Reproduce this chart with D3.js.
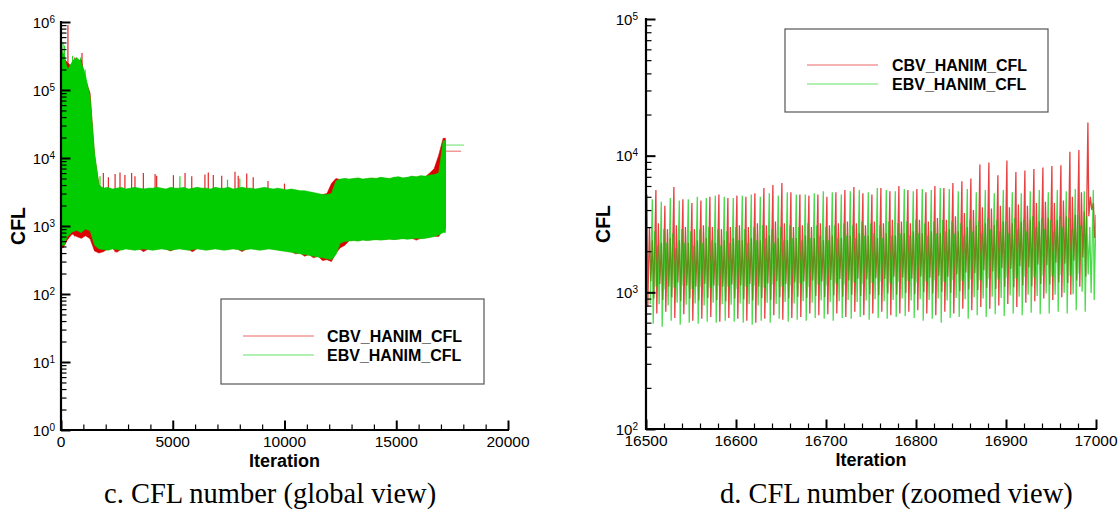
<!DOCTYPE html>
<html>
<head>
<meta charset="utf-8">
<title>CFL number history</title>
<script src="https://cdn.jsdelivr.net/npm/d3@7/dist/d3.min.js"></script>
<style>
  html, body { margin: 0; padding: 0; background: #ffffff; }
  svg { display: block; }
</style>
</head>
<body>
<svg id="chart" width="1120" height="512"></svg>
<script>
// ---------- Global view: envelope of each series per 200-iteration bin ----------
const globalBinSize = 200;
const globalEbvMax = [
  350000, 200000, 260000, 300000, 260000, 160000, 80000, 12000,
  3900, 3600, 3700, 3500, 3600, 3700, 3500, 3600, 3700, 3600, 3500,
  3600, 3600, 3700, 3600, 3500, 3700, 3600, 3600, 3700, 3500, 3600,
  3700, 3600, 3600, 3500, 3700, 3600, 3600, 3700, 3500, 3600, 3700,
  3600, 3600, 3500, 3600, 3700, 3600, 3500, 3600, 3500, 3400, 3500,
  3400, 3300, 3300, 3200, 3100, 3000, 2900, 2900, 3000, 4600,
  4900, 5000, 4900, 5000, 5100, 4900, 5000, 5100, 5000, 5200, 5100,
  5000, 5200, 5300, 5100, 5200, 5400, 5300, 5500, 5400, 5600, 5700,
  6000, 18000
];
const globalEbvMin = [
  520, 700, 820, 860, 800, 900, 850, 520,
  460, 450, 440, 460, 450, 440, 460, 450, 440, 450, 460,
  450, 440, 450, 460, 450, 440, 450, 460, 450, 440, 450,
  460, 450, 440, 450, 460, 450, 440, 450, 460, 450, 440,
  450, 460, 450, 440, 450, 460, 450, 440, 430, 420, 410,
  400, 390, 380, 370, 360, 350, 340, 330, 320, 380,
  560, 590, 600, 610, 600, 620, 610, 620, 630, 620, 630,
  640, 630, 640, 650, 640, 650, 660, 650, 660, 680, 700,
  740, 800
];
const globalCbvMax = [
  300000, 250000, 220000, 250000, 280000, 140000, 90000, 11000,
  4000, 3500, 3600, 3400, 3500, 3600, 3400, 3500, 3600, 3500, 3400,
  3500, 3500, 3600, 3500, 3400, 3600, 3500, 3500, 3600, 3400, 3500,
  3600, 3500, 3500, 3400, 3600, 3500, 3500, 3600, 3400, 3500, 3600,
  3500, 3500, 3400, 3500, 3600, 3500, 3400, 3500, 3400, 3300, 3400,
  3300, 3200, 3200, 3100, 3000, 2900, 2900, 3000, 4200, 5000,
  4800, 4900, 4800, 4900, 5000, 4800, 4900, 5000, 4900, 5100, 5000,
  4900, 5100, 5200, 5000, 5100, 5300, 5200, 5400, 5300, 6000, 7000,
  11000, 19500
];
const globalCbvMin = [
  480, 640, 760, 700, 660, 720, 650, 430,
  400, 420, 460, 470, 410, 460, 470, 460, 450, 460, 420,
  460, 450, 460, 470, 460, 430, 460, 470, 460, 450, 420,
  470, 460, 450, 460, 470, 460, 450, 460, 470, 460, 420,
  460, 470, 460, 450, 460, 470, 460, 450, 440, 430, 420,
  390, 400, 360, 380, 340, 360, 310, 320, 300, 400,
  480, 520, 610, 620, 610, 630, 620, 630, 640, 630, 640,
  650, 640, 650, 660, 650, 660, 620, 660, 670, 690, 710,
  700, 900
];
// isolated excursions beyond the band
const globalCbvSpikeIter = [40, 310, 620, 940, 1895, 2120, 2420, 2640, 2860, 3160, 3310, 3685, 4210, 4280,
  5030, 5550, 5850, 6440, 6590, 6815, 7190, 7785, 7930, 8310, 8600, 9260, 10000];
const globalCbvSpikeVal = [380000, 900000, 300000, 350000, 6000, 5200, 5800, 6100, 5600, 6000, 5400, 6000, 5800, 5500,
  5600, 6000, 5400, 5700, 6100, 5600, 5500, 6300, 5500, 5900, 5200, 4600, 4200];
const globalEbvSpikeIter = [90, 160, 520, 560, 880, 1080, 1745, 5320, 7450, 8000];
const globalEbvSpikeVal = [500000, 450000, 320000, 280000, 300000, 200000, 5400, 5400, 4800, 5000];
// last recorded samples after the run
const globalCbvTailIter = [17200, 17900];
const globalCbvTailVal = [12600, 12600];
const globalEbvTailIter = [17200, 18030];
const globalEbvTailVal = [15500, 15500];

// ---------- Zoomed view: one entry per 10-iteration cycle from 16500 ----------
const zoomStart = 16500;
const zoomCycle = 10;
const zoomCbvPeak = [
  5200, 5600, 4300, 5900, 4800, 4500, 4700, 5000, 5200, 4900,
  5100, 5000, 5300, 5800, 6100, 6300, 5400, 5200, 5100, 5200,
  5000, 5400, 5600, 5900, 5300, 5200, 5800, 5500, 6000, 5600,
  5700, 5400, 6000, 5800, 6300, 6500, 6800, 8600, 8900, 7200,
  9200, 7600, 7800, 8000, 8200, 8400, 8500, 10700, 11000, 17500
];
const zoomCbvTrough = [
  780, 700, 720, 650, 690, 620, 640, 660, 610, 650,
  640, 620, 600, 640, 680, 630, 650, 660, 700, 680,
  690, 700, 660, 720, 680, 700, 720, 680, 700, 720,
  740, 700, 680, 720, 700, 760, 740, 780, 760, 800,
  820, 780, 840, 860, 900, 880, 920, 960, 1100, 3600
];
const zoomCbvHigh = [
  3000, 3200, 2900, 3100, 3000, 2900, 3100, 3000, 2900, 3000,
  3100, 3000, 3200, 3100, 3300, 3200, 3000, 3100, 3000, 3200,
  3100, 3200, 3300, 3200, 3100, 3300, 3200, 3400, 3300, 3200,
  3400, 3300, 3500, 3400, 3600, 3800, 4000, 4200, 4100, 4300,
  4200, 4400, 4300, 4500, 4600, 4500, 4700, 5000, 5400, 5000
];
const zoomCbvLow = [
  1200, 1150, 1100, 1180, 1120, 1100, 1150, 1120, 1100, 1140,
  1120, 1150, 1100, 1160, 1200, 1150, 1180, 1200, 1220, 1200,
  1230, 1250, 1220, 1260, 1240, 1270, 1250, 1300, 1280, 1260,
  1300, 1280, 1320, 1300, 1350, 1400, 1380, 1450, 1420, 1500,
  1480, 1550, 1520, 1600, 1580, 1650, 1620, 1700, 1800, 4000
];
const zoomCbvHigh2 = [
  2400, 2300, 2500, 2400, 2300, 2400, 2500, 2300, 2400, 2500,
  2400, 2500, 2400, 2600, 2500, 2400, 2500, 2600, 2500, 2400,
  2600, 2500, 2600, 2700, 2600, 2500, 2700, 2600, 2700, 2800,
  2700, 2800, 2700, 2900, 2800, 3000, 3100, 3200, 3100, 3300,
  3200, 3300, 3400, 3300, 3500, 3400, 3600, 3700, 3900, 4500
];
const zoomCbvLow2 = [
  900, 880, 920, 860, 900, 870, 910, 880, 860, 900,
  890, 870, 910, 880, 920, 900, 930, 910, 940, 920,
  950, 930, 960, 940, 970, 950, 980, 960, 990, 970,
  1000, 980, 1010, 990, 1020, 1050, 1040, 1080, 1060, 1100,
  1090, 1120, 1110, 1150, 1140, 1180, 1170, 1220, 1300, 2500
];
const zoomEbvPeak = [
  4800, 4600, 4900, 4700, 4800, 5000, 4900, 5100, 5000, 4900,
  5100, 5200, 5000, 5300, 5100, 5400, 5200, 5200, 5300, 5500,
  5400, 5200, 5500, 5600, 5400, 5800, 5600, 5500, 5700, 5500,
  5700, 5600, 5800, 5700, 5500, 5700, 5400, 5600, 5300, 5600,
  5400, 5300, 5500, 5600, 5400, 5600, 5500, 5700, 5500, 5600
];
const zoomEbvTrough = [
  590, 560, 620, 580, 600, 590, 610, 600, 620, 610,
  600, 580, 620, 600, 640, 610, 630, 620, 650, 640,
  620, 650, 640, 660, 630, 650, 640, 660, 670, 650,
  620, 640, 600, 650, 660, 640, 680, 660, 690, 670,
  700, 680, 710, 690, 700, 720, 700, 740, 720, 880
];
const zoomEbvHigh = [
  2800, 2900, 2700, 2900, 2800, 2900, 3000, 2900, 2800, 3000,
  2900, 3000, 3100, 2900, 3000, 3100, 3000, 3200, 3100, 3000,
  3100, 3200, 3100, 3300, 3200, 3100, 3300, 3200, 3300, 3400,
  3200, 3300, 3400, 3300, 3200, 3400, 3300, 3500, 3400, 3300,
  3500, 3400, 3600, 3500, 3400, 3600, 3500, 3700, 3600, 3700
];
const zoomEbvLow = [
  1100, 1050, 1080, 1120, 1060, 1100, 1080, 1120, 1100, 1060,
  1100, 1120, 1080, 1140, 1100, 1120, 1160, 1100, 1140, 1120,
  1160, 1140, 1180, 1150, 1170, 1200, 1160, 1190, 1210, 1180,
  1200, 1220, 1190, 1230, 1210, 1240, 1220, 1260, 1240, 1280,
  1260, 1300, 1280, 1320, 1300, 1340, 1320, 1360, 1350, 1400
];
const zoomEbvHigh2 = [
  2200, 2300, 2100, 2300, 2200, 2300, 2400, 2200, 2300, 2400,
  2300, 2400, 2500, 2300, 2400, 2500, 2400, 2500, 2600, 2400,
  2500, 2600, 2500, 2600, 2700, 2500, 2600, 2700, 2600, 2700,
  2600, 2700, 2800, 2700, 2600, 2800, 2700, 2900, 2800, 2700,
  2900, 2800, 3000, 2900, 2800, 3000, 2900, 3100, 3000, 3100
];
const zoomEbvLow2 = [
  820, 800, 840, 810, 830, 800, 840, 820, 810, 830,
  820, 800, 840, 820, 850, 830, 860, 840, 870, 850,
  860, 880, 850, 870, 890, 860, 880, 900, 870, 890,
  880, 900, 870, 910, 890, 920, 900, 930, 910, 950,
  930, 960, 940, 980, 960, 990, 970, 1010, 990, 1040
];

// ---------- labels ----------
const seriesNames = ["CBV_HANIM_CFL", "EBV_HANIM_CFL"];
const globalXTicks = [0, 5000, 10000, 15000, 20000];
const zoomXTicks = [16500, 16600, 16700, 16800, 16900, 17000];
const xTitle = "Iteration";
const yTitle = "CFL";
const captions = ["c. CFL number (global view)", "d. CFL number (zoomed view)"];

// ---------- drawing ----------
const SANS = '"Liberation Sans", Arial, Helvetica, sans-serif';
const SERIF = '"Liberation Serif", "Times New Roman", Times, serif';
const RED = "#dd0000";
const GREEN = "#00cc00";

const svg = d3.select("#chart");

const xG = d3.scaleLinear().domain([0, 20000]).range([61, 508]);
const yG = d3.scaleLog().domain([1, 1e6]).range([430, 22]);
const xZ = d3.scaleLinear().domain([16500, 17000]).range([646, 1096]);
const yZ = d3.scaleLog().domain([100, 1e5]).range([429, 19]);

function drawAxes(x, y, xMajor, xMinorStep, yLabelGap, titleX, titleY) {
  const [xa, xb] = x.range();
  const [yb, ya] = y.range();
  const g = svg.append("g");
  const [d0, d1] = x.domain();
  const xMinor = d3.range(d0, d1 + 1e-6, xMinorStep).filter(v => !xMajor.includes(v));
  const yAll = y.ticks();
  const yMajor = yAll.filter(v => Math.abs(Math.log10(v) - Math.round(Math.log10(v))) < 1e-9);
  const yMinor = yAll.filter(v => !yMajor.includes(v));

  // x ticks pointing into the plot
  g.append("g").attr("transform", `translate(0,${yb})`)
    .call(d3.axisBottom(x).tickValues(xMinor).tickSize(-5.5).tickSizeOuter(0).tickFormat(""))
    .call(s => s.select(".domain").remove())
    .call(s => s.selectAll("line").attr("stroke", "#000").attr("stroke-width", 1.2));
  g.append("g").attr("transform", `translate(0,${yb})`)
    .call(d3.axisBottom(x).tickValues(xMajor).tickSize(-9.5).tickSizeOuter(0).tickFormat(""))
    .call(s => s.select(".domain").remove())
    .call(s => s.selectAll("line").attr("stroke", "#000").attr("stroke-width", 2));
  // y ticks pointing into the plot
  g.append("g").attr("transform", `translate(${xa},0)`)
    .call(d3.axisLeft(y).tickValues(yMinor).tickSize(-5.5).tickSizeOuter(0).tickFormat(""))
    .call(s => s.select(".domain").remove())
    .call(s => s.selectAll("line").attr("stroke", "#000").attr("stroke-width", 1.2));
  g.append("g").attr("transform", `translate(${xa},0)`)
    .call(d3.axisLeft(y).tickValues(yMajor).tickSize(-9.5).tickSizeOuter(0).tickFormat(""))
    .call(s => s.select(".domain").remove())
    .call(s => s.selectAll("line").attr("stroke", "#000").attr("stroke-width", 2));

  // axis lines
  g.append("path")
    .attr("d", `M${xa},${ya - 1}V${yb}H${xb + 1}`)
    .attr("fill", "none").attr("stroke", "#000").attr("stroke-width", 2.2);

  // x tick labels
  g.append("g").selectAll("text").data(xMajor).join("text")
    .attr("x", d => x(d)).attr("y", yb + 17)
    .attr("text-anchor", "middle")
    .attr("font-family", SANS).attr("font-size", 15.5).attr("fill", "#000")
    .text(d => String(d));

  // y tick labels: powers of ten with superscript exponent
  const yl = g.append("g").selectAll("text").data(yMajor).join("text")
    .attr("x", xa - yLabelGap).attr("y", d => y(d) + 5.5)
    .attr("text-anchor", "end")
    .attr("font-family", SANS).attr("font-size", 15).attr("fill", "#000");
  yl.append("tspan").text("10");
  yl.append("tspan").attr("font-size", 10).attr("dy", -5)
    .text(d => String(Math.round(Math.log10(d))));

  // axis titles
  g.append("text")
    .attr("x", (xa + xb) / 2).attr("y", yb + 36.5)
    .attr("text-anchor", "middle")
    .attr("font-family", SANS).attr("font-weight", "bold").attr("font-size", 18)
    .text(xTitle);
  g.append("text")
    .attr("transform", `translate(${titleX},${titleY}) rotate(-90)`)
    .attr("text-anchor", "middle")
    .attr("font-family", SANS).attr("font-weight", "bold").attr("font-size", 19.5)
    .text(yTitle);
}

function drawLegend(bx, by, bw, bh, lineX0, lineX1, textX, rows) {
  const g = svg.append("g");
  g.append("rect").attr("x", bx).attr("y", by).attr("width", bw).attr("height", bh)
    .attr("fill", "#fff").attr("stroke", "#555").attr("stroke-width", 1.2);
  const colors = [RED, GREEN];
  seriesNames.forEach((name, i) => {
    g.append("line").attr("x1", lineX0).attr("x2", lineX1)
      .attr("y1", rows[i]).attr("y2", rows[i])
      .attr("stroke", colors[i]).attr("stroke-width", 1).attr("stroke-opacity", 0.6);
    g.append("text").attr("x", textX).attr("y", rows[i] + 6)
      .attr("font-family", SANS).attr("font-weight", "bold").attr("font-size", 16)
      .text(name);
  });
}

// ----- global view -----
function band(maxArr, minArr) {
  const pts = maxArr.map((v, k) => ({ it: k * globalBinSize + globalBinSize / 2, hi: v, lo: minArr[k] }));
  pts.unshift({ it: 0, hi: maxArr[0], lo: minArr[0] });
  pts.push({ it: maxArr.length * globalBinSize, hi: maxArr[maxArr.length - 1], lo: minArr[minArr.length - 1] });
  return pts;
}
const areaG = d3.area().x(d => xG(d.it)).y0(d => yG(d.lo)).y1(d => yG(d.hi));
const lineG = d3.line().x(d => xG(d[0])).y(d => yG(d[1]));
const gGlobal = svg.append("g");

function drawSeriesGlobal(maxArr, minArr, spikeIt, spikeVal, tailIt, tailVal, color) {
  gGlobal.append("path").datum(band(maxArr, minArr)).attr("d", areaG)
    .attr("fill", color).attr("stroke", color).attr("stroke-width", 0.6);
  gGlobal.append("g").selectAll("line").data(spikeIt).join("line")
    .attr("x1", d => xG(d)).attr("x2", d => xG(d))
    .attr("y1", (d, i) => yG(spikeVal[i]))
    .attr("y2", d => yG(minArr[Math.min(minArr.length - 1, Math.floor(d / globalBinSize))]))
    .attr("stroke", color).attr("stroke-width", 1.2).attr("stroke-opacity", 0.85);
  gGlobal.append("path").datum(tailIt.map((t, i) => [t, tailVal[i]])).attr("d", lineG)
    .attr("fill", "none").attr("stroke", color).attr("stroke-width", 1).attr("stroke-opacity", 0.6);
}
drawSeriesGlobal(globalCbvMax, globalCbvMin, globalCbvSpikeIter, globalCbvSpikeVal,
  globalCbvTailIter, globalCbvTailVal, RED);
drawSeriesGlobal(globalEbvMax, globalEbvMin, globalEbvSpikeIter, globalEbvSpikeVal,
  globalEbvTailIter, globalEbvTailVal, GREEN);

drawAxes(xG, yG, globalXTicks, 1000, 6, 25, 226);
drawLegend(221, 299, 263, 85, 243, 314, 327, [336, 355]);

// ----- zoomed view -----
svg.append("defs").append("clipPath").attr("id", "zoomClip")
  .append("rect").attr("x", 646).attr("y", 19).attr("width", 450).attr("height", 410);

// each cycle: sharp peak, drop to trough, then two smaller swings before the next peak
function cycles(peak, trough, high, low, high2, low2, phase) {
  const pts = [[zoomStart + phase - 2.4, low2[0]]];
  peak.forEach((p, i) => {
    const c = zoomStart + zoomCycle * i + phase;
    pts.push([c, p], [c + 1, trough[i]], [c + 2.8, high[i]], [c + 4.3, low[i]],
      [c + 6.1, high2[i]], [c + 7.6, low2[i]]);
  });
  return pts;
}
const lineZ = d3.line().x(d => xZ(d[0])).y(d => yZ(d[1]));
const gZoom = svg.append("g").attr("clip-path", "url(#zoomClip)");
gZoom.append("path")
  .datum(cycles(zoomCbvPeak, zoomCbvTrough, zoomCbvHigh, zoomCbvLow, zoomCbvHigh2, zoomCbvLow2, 1))
  .attr("d", lineZ).attr("fill", "none")
  .attr("stroke", RED).attr("stroke-width", 1.3).attr("stroke-opacity", 0.75);
gZoom.append("path")
  .datum(cycles(zoomEbvPeak, zoomEbvTrough, zoomEbvHigh, zoomEbvLow, zoomEbvHigh2, zoomEbvLow2, 7))
  .attr("d", lineZ).attr("fill", "none")
  .attr("stroke", GREEN).attr("stroke-width", 1.3).attr("stroke-opacity", 0.7);

drawAxes(xZ, yZ, zoomXTicks, 20, 8, 610, 224);
drawLegend(785, 29, 263, 83, 807, 878, 892, [65, 84]);

// ----- captions -----
svg.append("text").attr("x", 104).attr("y", 503)
  .attr("font-family", SERIF).attr("font-size", 28.5).text(captions[0]);
svg.append("text").attr("x", 720).attr("y", 503)
  .attr("font-family", SERIF).attr("font-size", 28.5).text(captions[1]);
</script>
</body>
</html>
